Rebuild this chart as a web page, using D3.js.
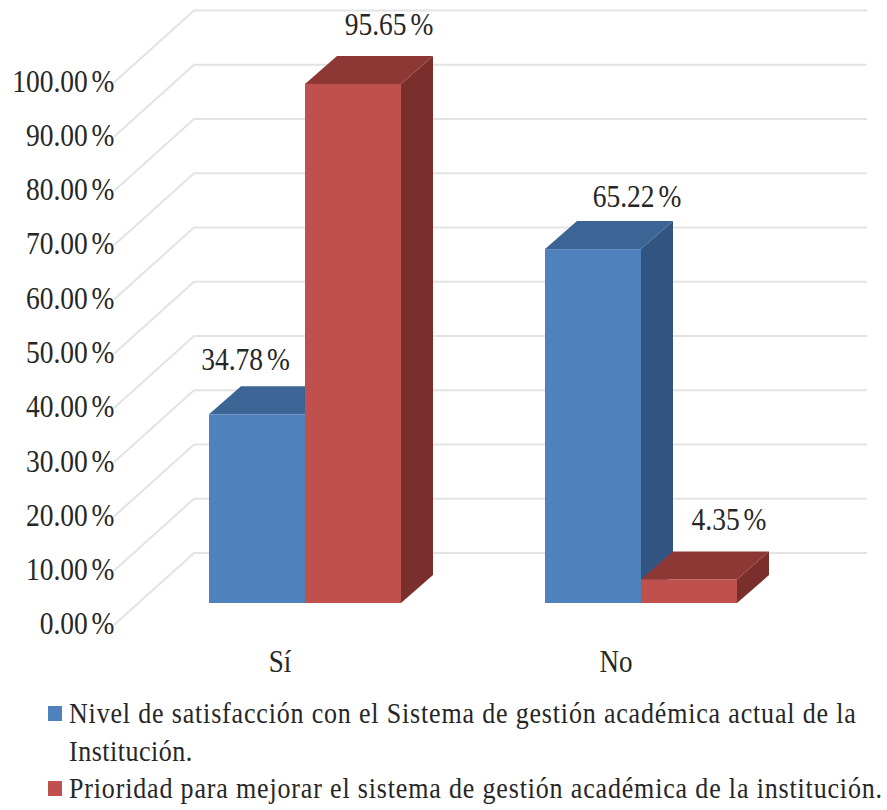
<!DOCTYPE html>
<html lang="es">
<head>
<meta charset="utf-8">
<title>Nivel de satisfacción y prioridad de mejora</title>
<script src="https://cdn.jsdelivr.net/npm/d3@7/dist/d3.min.js"></script>
<style>
  html, body { margin: 0; padding: 0; background: #fff; }
  svg { display: block; }
  text { font-family: "Liberation Serif", "Times New Roman", serif; fill: #262626; }
</style>
</head>
<body>
<svg id="chart" width="887" height="810"></svg>
<script>
// Chart data
const categories = ["Sí", "No"];
const legendLines = [
  "Nivel de satisfacción con el Sistema de gestión académica actual de la",
  "Institución.",
  "Prioridad para mejorar el sistema de gestión académica de la institución."
];
const satisfaccion = [34.78, 65.22];
const prioridad = [95.65, 4.35];
const yTicks = [0, 10, 20, 30, 40, 50, 60, 70, 80, 90, 100];

// Layout of the 3D box projection
const depthX = 32, depthY = 28;
const wallShiftY = -50, wallLeft = 194, wallRight = 867, floorLeft = 114;
const stretch = 1.17;

const svg = d3.select("#chart");
const y = d3.scaleLinear().domain([0, 100]).range([603, 60.4]);
const groupScale = d3.scalePoint().domain(categories).range([209, 545]);
const x1 = d3.scaleBand().domain([0, 1]).range([0, 192]);

const series = [
  { values: satisfaccion, front: "#4f81bd", top: "#3c6595", side: "#325480" },
  { values: prioridad,    front: "#c0504d", top: "#8e3836", side: "#7b2f2d" }
];

// Back wall gridlines and their receding edge towards the axis labels
const grid = svg.append("g").attr("fill", "none").attr("stroke", "#e3e3e3").attr("stroke-width", 2);
grid.selectAll("path").data(yTicks).join("path")
  .attr("d", v => {
    const by = y(v) + wallShiftY;
    const p = d3.path();
    p.moveTo(floorLeft, by + 72);
    p.lineTo(wallLeft, by);
    p.lineTo(wallRight, by);
    return p.toString();
  });

// Percentage axis
const axis = d3.axisLeft(y).tickValues(yTicks).tickSize(0).tickPadding(0)
  .tickFormat(v => d3.format(".2f")(v) + " %");
const axisG = svg.append("g").attr("transform", "translate(114.5,20.5)").call(axis);
axisG.select(".domain").remove();
axisG.attr("font-family", null).attr("font-size", null);
axisG.selectAll("text")
  .attr("font-size", 27.5).attr("word-spacing", -3)
  .attr("transform", `scale(1,${stretch})`);

// Bars: front, top and side faces
const poly = pts => pts.map(p => p.join(",")).join(" ");
const bars = svg.append("g");
series.forEach((s, si) => {
  categories.forEach((c, ci) => {
    const v = s.values[ci];
    const l = groupScale(c) + x1(si), r = l + x1.bandwidth();
    const t = y(v), b = y(0);
    const g = bars.append("g");
    g.append("polygon").attr("fill", s.side)
      .attr("points", poly([[r, t], [r + depthX, t - depthY], [r + depthX, b - depthY], [r, b]]));
    g.append("polygon").attr("fill", s.top)
      .attr("points", poly([[l, t], [l + depthX, t - depthY], [r + depthX, t - depthY], [r, t]]));
    g.append("rect").attr("fill", s.front)
      .attr("x", l).attr("y", t).attr("width", r - l).attr("height", b - t);
  });
});

// Value labels sit by hand around each bar, as offsets from the bar's top-left corner
const labelOffsets = [
  [[36.5, -44], [92, -42]],
  [[84, -49], [88, -49]]
];
series.forEach((s, si) => {
  categories.forEach((c, ci) => {
    const v = s.values[ci];
    const [dx, dy] = labelOffsets[si][ci];
    svg.append("text")
      .attr("text-anchor", "middle").attr("font-size", 27.5).attr("word-spacing", -3)
      .attr("transform", `translate(${groupScale(c) + x1(si) + dx},${y(v) + dy}) scale(1,${stretch})`)
      .text(d3.format(".2f")(v) + " %");
  });
});

// Category labels
svg.append("g").selectAll("text").data(categories).join("text")
  .attr("text-anchor", "middle").attr("font-size", 27)
  .attr("transform", c => `translate(${groupScale(c) + 71},672) scale(1,${stretch})`)
  .text(c => c);

// Legend
const legendRows = [
  { swatch: series[0].front, y: 723, text: legendLines[0], spacing: 0.83 },
  { swatch: null, y: 761, text: legendLines[1], spacing: 0.5 },
  { swatch: series[1].front, y: 798, text: legendLines[2], spacing: 0.84 }
];
const legend = svg.append("g");
legendRows.forEach(row => {
  if (row.swatch) {
    legend.append("rect").attr("x", 48).attr("y", row.y - 17).attr("width", 14).attr("height", 15).attr("fill", row.swatch);
  }
  legend.append("text")
    .attr("font-size", 26).attr("letter-spacing", row.spacing)
    .attr("transform", `translate(69,${row.y}) scale(1,${stretch})`)
    .text(row.text);
});
</script>
</body>
</html>
